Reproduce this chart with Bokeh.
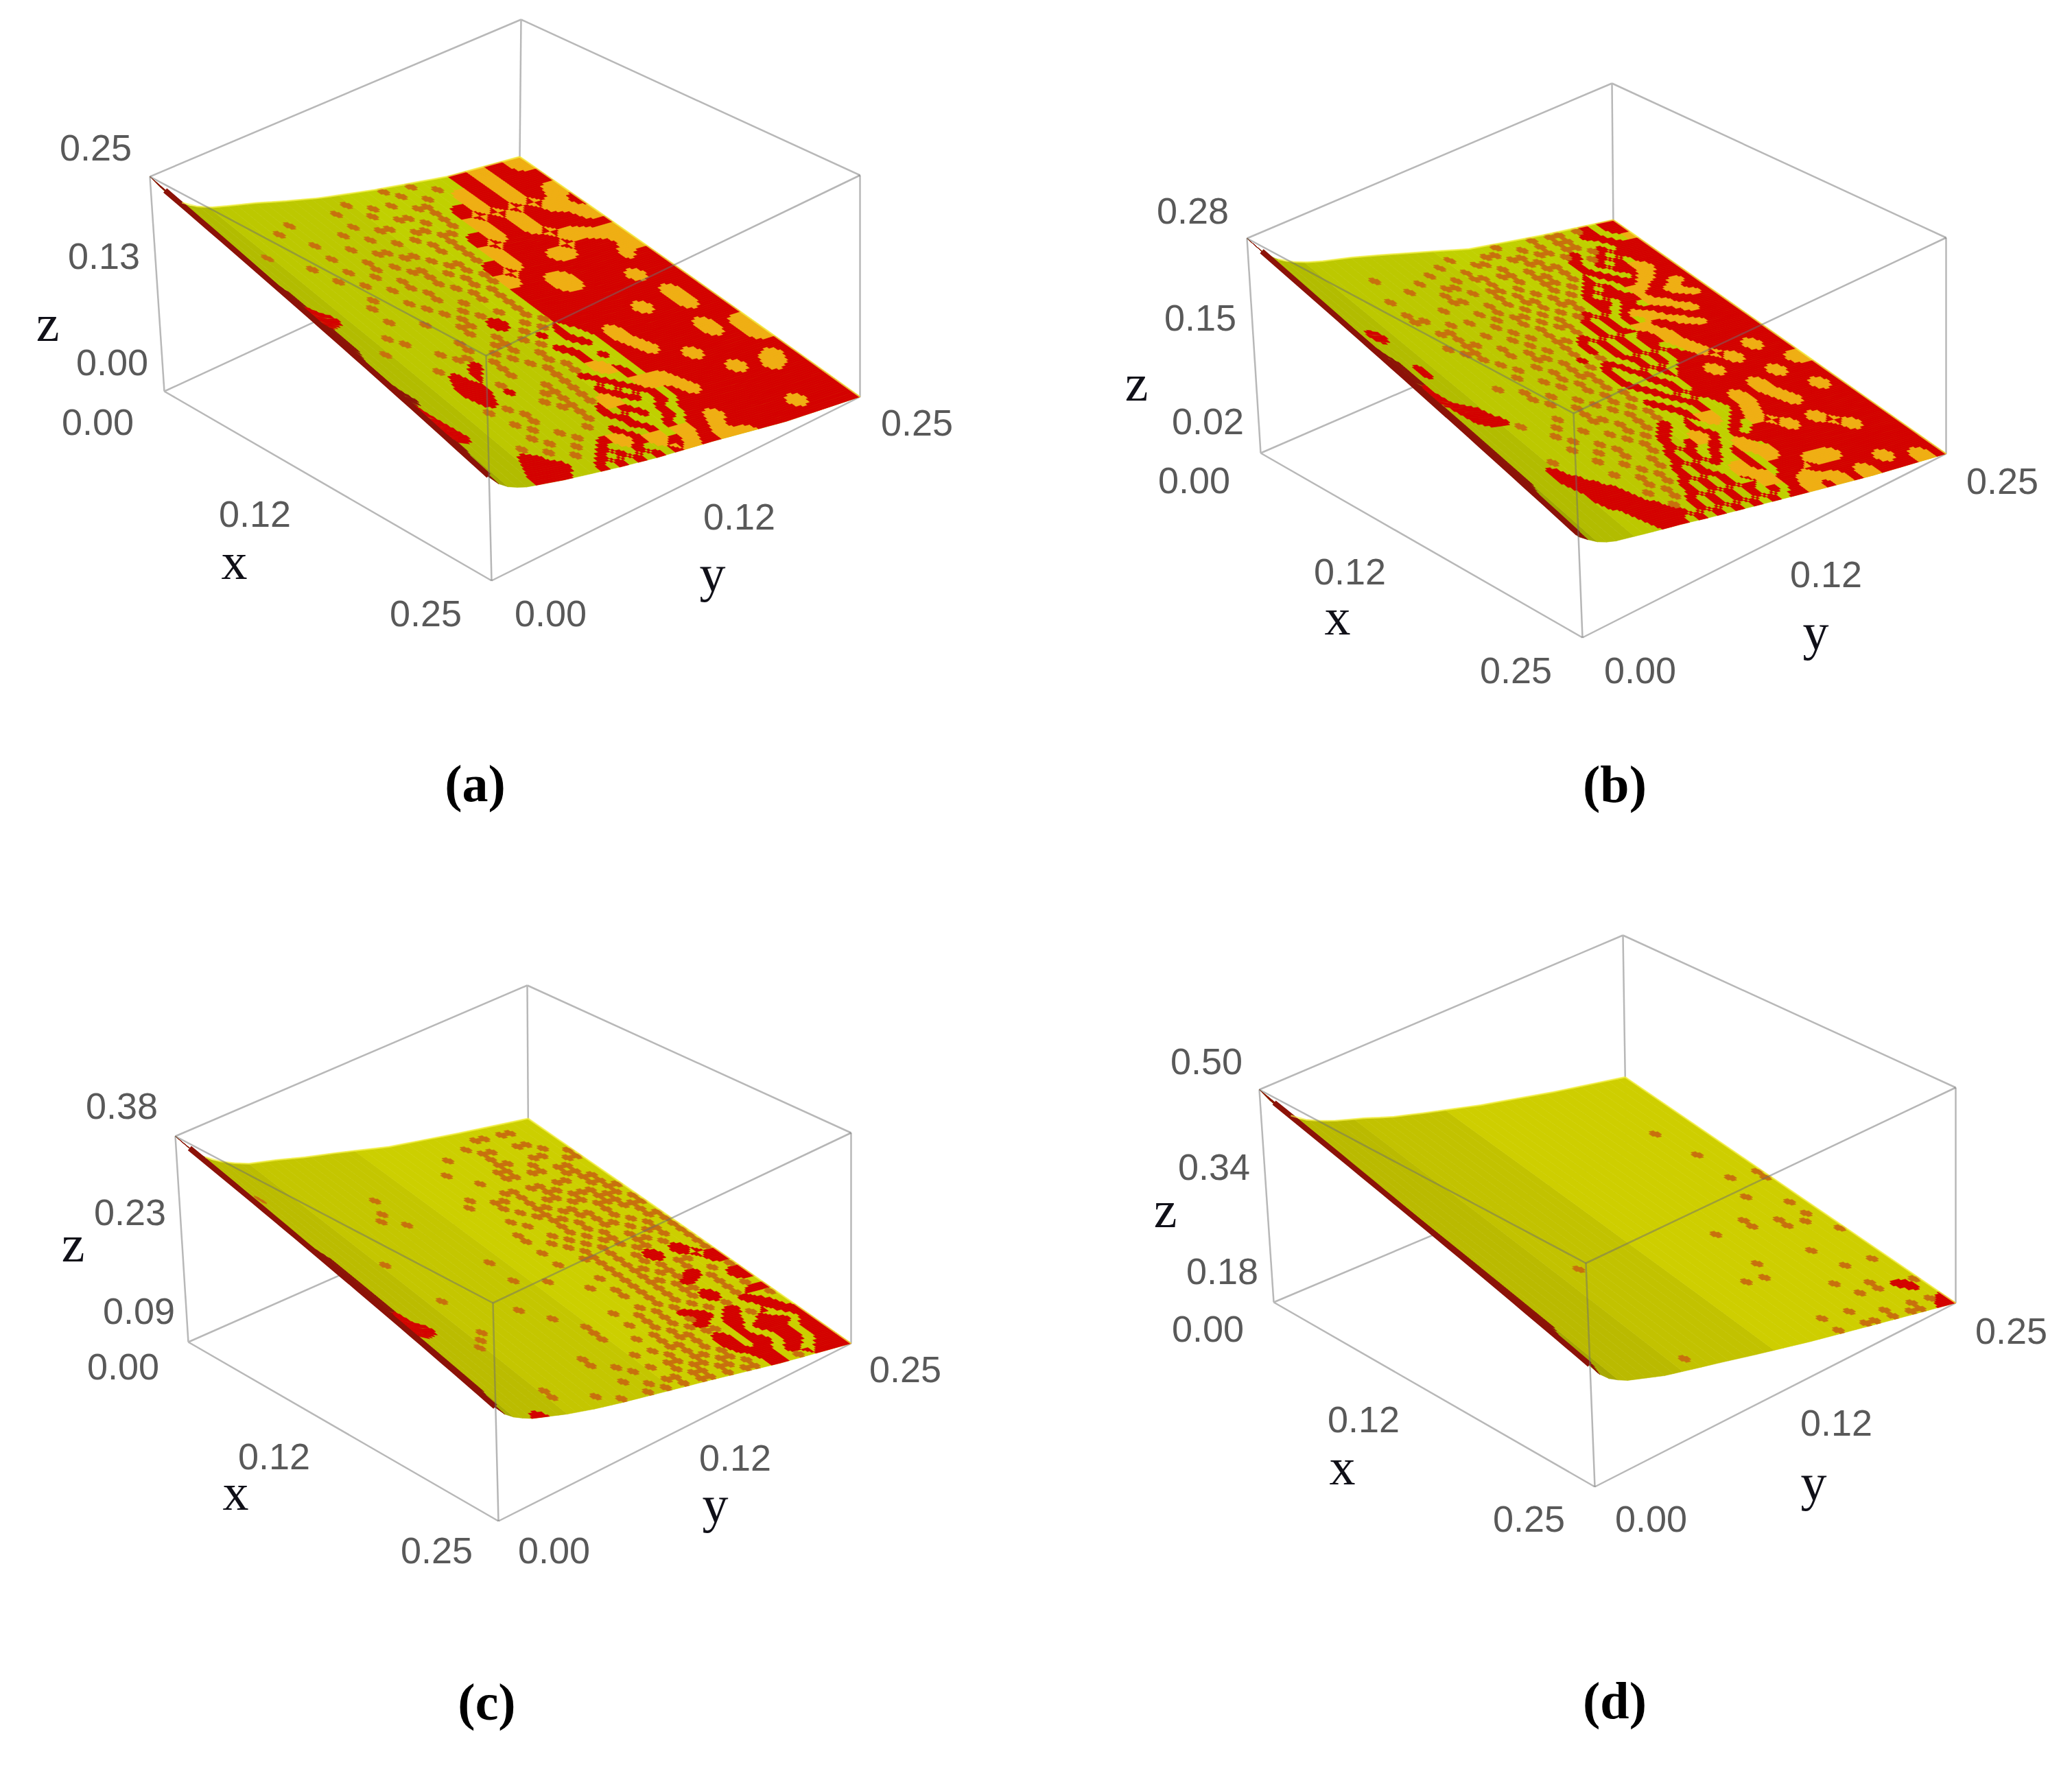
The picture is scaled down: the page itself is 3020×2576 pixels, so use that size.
import numpy as np
from bokeh.plotting import figure
from bokeh.layouts import column, row
from bokeh.models import Range1d
from bokeh.core.properties import value
from bokeh.embed import file_html
from bokeh.resources import INLINE

# ---- values -----------------------------------------------------------
panel_names = ["(a)", "(b)", "(c)", "(d)"]
xy_ticks = ["0.00", "0.12", "0.25"]
z_ticks_a = ["0.25", "0.13", "0.00"]
z_ticks_b = ["0.28", "0.15", "0.02"]
z_ticks_c = ["0.38", "0.23", "0.09"]
z_ticks_d = ["0.50", "0.34", "0.18"]

# surface height, as a share of the z axis, along y at x=0 and at x=0.25
y_knots = [0, .03, .06, .1, .15, .2, .28, .35, .45, .6, .8, 1]
z_x0_a = [1, .92, .85, .79, .745, .715, .67, .625, .565, .49, .40, .34]
z_x1_a = [.46, .40, .365, .335, .31, .285, .25, .22, .18, .13, .055, 0]
z_x0_b = [1, .93, .87, .82, .78, .75, .71, .67, .61, .52, .44, .37]
z_x1_b = [.45, .41, .375, .35, .33, .31, .28, .25, .21, .15, .07, 0]
z_x0_c = [1, .93, .87, .81, .76, .72, .68, .64, .59, .51, .43, .355]
z_x1_c = [.52, .46, .425, .39, .36, .33, .29, .26, .22, .16, .075, 0]
z_x0_d = [1, .92, .85, .79, .745, .71, .665, .62, .57, .50, .42, .35]
z_x1_d = [.55, .47, .43, .395, .365, .335, .30, .27, .225, .16, .08, 0]

# surface colour per (x row, y column): . base  m small mark  o orange  r red  d dark red
mask_a = [
"d.......................m..m....rroorroo",
"d..................m.....m...m..rroorroo",
"d................m...m.m...m..oorroorrrr",
"d..........m........m....mm...oorroorrrr",
"d........m.......m....mm..m.rroorroorroo",
"d..............m...mm...m.m.rroorroorroo",
"dd.........m.....m....mm..m.oorroorrooor",
"dd...m........m....m.m..mm..oorroorrooor",
"dd.........m....mm....m.m.rroorroorrrroo",
"dd......m.....m...mm..m.m.rroorroorrrroo",
"dd.........m..m.m...m...m.oorrrrrrooorrr",
"dd.......m...m...mm..mm.m.oorrrrrrooorro",
"ddd........m...m..m.m.m.rroorrrooorrrrro",
"ddd..........m.m..m..m.mrroorrrooorrrrrr",
"ddd.......m.....m..m.m.moorrrrrrrrrrrorr",
"ddrr.....m...m..m...m.m.oorrooorrrrrrorr",
"ddrrr.........m...m.m.m.rrrrooorrrrrrrrr",
"ddrr.....m.....m.m....m.rrrrooorrrrrrrrr",
"ddd.........m...m.m.m.m.rrrrrrrrrrrrrrrr",
"ddd....m.......mm.rr..m.rrrrrrrrrrrrrrrr",
"ddd.....m......m..rr.m.mrrrrrrrrrrrrrrrr",
"ddd..m.......m...m..m.m.rrrrrrrrrrrrrrrr",
"dd........m..m..mm.m.r.r.rrrrrrrrrrrrrrr",
"dd.........mm..m.m..m..r..rrrrrrrrrrrrrr",
"dd......m...r.m.m..m.r..r.rrrrrrrrrrrrrr",
"dd.......r.r..m..m.m..r...rrrrrrrrrrrrrr",
"dd......rrr...m...m.m.r.r.rrrrrrrrrrrrrr",
"ddd.....rrr.m.....m.m..r..rrrrrrrrrrrrrr",
"ddd.....rrr.r...m.m.r...r.rrrrrrrrrrrrrr",
"dr.......r.....mm.m..r..r.rrrrrrrrrrrrrr",
"drr.....m.m...m.m.m.r.r..rrrrrrrrrrrrrrr",
"drr........m...mm.m..r.r.rrrrrrrrrrrrrrr",
"drrr.....m.m....m.r...r.r.rrrrrrrrrrrrrr",
"ddrr......m.....m.r.r...r.rrrrrrrrrrrrrr",
"dd.......m..m..m...r.r.r.rrrrrrrrrrrrrrr",
"dd.....m..m..m...r.r...r.rrrrrrrrrrrrrrr",
"d.....rr.m..m..r..r.r.r.rrrrrrrrrrrrrrrr",
"d.....rrr..m..r.r.r...r.rrrrrrrrrrrrrrrr",
"d....rrrrr...r.r.r.r.r.rrrrrrrrrrrrrrrrr",
"d....rrrr...r.r.r.r.rrrrrrrrrrrrrrrrrrrr",
]
# orange dots on the surface: (x row, y column, rows tall)
dots_a = [(20,36,2),(17,35,2),(21,32,2),(23,27,3),(22,36,2),(25,35,3),(26,38,3),(28,31,2),(26,28,2),
          (31,33,2),(32,36,2),(37,34,2),(36,26,2),(38,25,2),(32,27,2),(30,24,2),(30,26,2),(27,22,2),
          (31,19,2),(31,37,2),(28,38,2),(37,22,2),(37,19,2),(39,21,1),(36,16,2),(39,27,1),(13,38,2),(11,37,2)]
mask_b = [
"d.........................m...m.mm.mr.rr",
"d...................m...mm..m.m.mm.rr.rr",
"d.................m...mm..mm.mm.mm..rr.oo",
"d.........m.....m...m...m..mm..mr.mr.rrr",
"d.............m...m.mm.mm.m.mm.r.mr.rrrr",
"d...........m...mm...m..m.mm.m.r.r.r.rrr",
"dd.......m.....m..m.mm.m..mm.m.rr.rroorr",
"dd.............mm...m.m.m.m.m.r.rr.roorr",
"dd.......m...m....m.m.mm.m.m.r.r.rroorrr",
"dd.......mm.....m.m..m.m.mm.r.rr.oorroor",
"dd.rr.......m.m..m.mm.m.m.m.rr.rrorroorr",
"dd.rr.....mm....m..m.m.m.mr.r.rr.oorroor",
"dd.........m..m..m..m.mm.r.r.roorroorrrr",
"dd.......m.mm...m.m.m..m.r.r.r.oorroorrr",
"ddd.......mm..m..m..mm.r.r.r.oorroorrrrr",
"ddd.r......m..m.m.m.m.r.r.r.rroorroorrrr",
"ddd.r.......m...mm..m.r.r.r.rroorrrrrrrr",
"ddd..........m.m..m.r.m.r.r.r.oorrrrrrrr",
"ddr.........m...m.m.m.r..r.r.r.orrrrrrrr",
"ddr......m....m.m.mm.r.r.r.r.rrrrrrrrrrr",
"ddrr.......m...m.m.m.r..r.r.rrrrrrrrrrrr",
"dd.rrr.....m.m...m.m.r..r..rrrrrrrrrrrrr",
"dd.rrr......m..m..m.m.r..r.rrrrrrrrrrrrr",
"dd..rrr.......m.m.m.m..r.r.rrrrrrrrrrrrr",
"dd.....m...m..m..m.m.r..r.rrrrrrrrrrrrrr",
"dd........m...mm..m.m.r..r.rrrrrrrrrrrrr",
"dd.......m..m...m.m.m..r.r..rrrrrrrrrrrr",
"dd........m...m.m.m.r..r.r..rrrrrrrrrrrr",
"dd.......m..m..m.m.r..r.r..rrrrrrrrrrrrr",
"dd....m....m.m..m.r..r.r..r.rrrrrrrrrrrr",
"dd...r....m..m..m.r.r..r.r.rrrrrrrrrrrrr",
"dd...rr.....m..m.r.r..r.r.rrrrrrrrrrrrrr",
"dd...rrr..m..m.m.r.r.r.r.r.rrrrrrrrrrrrr",
"d.....rrr...m.m.r.r.r..r.r.rrrrrrrrrrrrr",
"d.....rrrr..m.m.r.r..r.r.rrrrrrrrrrrrrrr",
"d.....rrrr.m.m.r.r.r.r.r.rrrrrrrrrrrrrrr",
"d......rrrr..m.r.r.r.r.r.rrrrrrrrrrrrrrr",
"d.......rrrrm.r.r.r.r.r.rrrrrrrrrrrrrrrr",
"d.......rrrrr.r.r.r.r.r.rrrrrrrrrrrrrrrr",
"d........rrr.r.r.r.r.r.rrrrrrrrrrrrrrrrr",
]
dots_b = [(30,30,2),(30,33,2),(32,35,2),(37,34,2),(38,37,2),(37,26,2),(38,28,2),(38,25,2),(38,31,2),
          (25,29,3),(24,32,3),(23,35,2),(28,28,2),(21,30,2),(22,38,2),(34,21,2),(33,25,2),(29,21,2),
          (27,24,2),(31,24,2),(35,28,2),(35,30,2),(27,33,2),(20,33,2),(19,36,2),(36,22,2),(18,31,2),(26,37,2)]
mask_c = [
"d.......................................",
"d...............................mm.mm...",
"d.............................m.........",
"d..........................m...mm..mm...",
"d..............................m.....m..",
"dd.......................m.....mm..mm..m",
"dd.m..........................mm..m...mm",
"dd.............m...........m..mm.mm.mm..",
"dd..................................mm..",
"dd............m.........m...mm.mm.mm.mm.",
"dd...........m.........m..mm.m..mm...mm.",
"dd.............m..........m..m.mm.mmm.mm",
"dd.........................m.mm..mm.mmm.",
"dd.......................m..mm.mm..mmm.m",
"dd........................m..mm.mm.m.mmm",
"ddd.....................m....m.m.m.m..m.",
"ddd.....m...............m..m.m.m.mm.m.mm",
"ddd.......................m.m.m.m..m.m.m",
"ddd...............m.....m..m.m.mm.m.mm.m",
"ddd.........................m.m.m.mm.m.m",
"ddd.....................m..mm.m..mm.m..m",
"ddd...............m.........m.m.mrr.rr.m",
"ddd......m...........m......m.m.mrr.rr.m",
"ddd.......................m.m.mm.m.mm.rr",
"ddr.....................m...m.m.mm.m..rr",
"ddrr...........m..........m.m.mm.mrr.m.m",
"ddrrr.....................m.m.m.mrr.m.rr",
"ddrr.....m.......m..........m.m.mm..m.rr",
"dd......m..............m..m.m.m.mrr.m.m.",
"dd.....m...........m.....m.m.m.m.rr.m.rr",
"dd.................m...m.m.m.rr.m.m.rr.m",
"dd.................m.....m.m.mrr.rr..rr.",
"dd....................m.m.m.mrr.rr.m.rr.",
"dd.............m........m.mm.mm.rr.rr.rr",
"dd.............m....m.m.mm.m.rr.r.rrrr.r",
"dd...............m.....m.m.m.rr.r..rr.rr",
"dd......m.........m.m.mm.mm.mrr.rr.rr.rr",
"d.......m.......m.....m.mm.mm.rrr..rr.rr",
"d...........m.....m.mm.mm.mm.m.rr.rr.rrr",
"d...rr........m..m.m.m.mm.m.mm.rr.m.rrrr",
]
dots_c = []
mask_d = [
"d.......................................",
"d.......................................",
"d.......................................",
"d.......................................",
"d.......................................",
"dd......................................",
"dd......................................",
"dd......................................",
"dd.................................m....",
"dd......................................",
"dd......................................",
"dd......................................",
"dd..................................m...",
"ddd.....................................",
"ddd.....................................",
"ddd.....................................",
"ddd.................................m..m",
"ddd....................................m",
"ddd.....................................",
"ddd................................m....",
"ddd.....................................",
"ddd...................................m.",
"ddd.............................m.......",
"ddd.........................m...m..m..m.",
"ddd.........m......................m.m..",
"ddd.....................................",
"ddd....................................m",
"ddd.....................................",
"ddd.........................m.....m.....",
"ddd.....................................",
"ddd......................m.m............",
"ddd................................m..m.",
"ddd.....................................",
"dd..............................m.......",
"dd.................................m....",
"dd...............................m.m.rrm",
"dd....................................r.",
"dd.........................m..m.........",
"dd.........m.....................m..m.mrm",
"d..........................m..mm.m.mm.rr",
]
dots_d = []

# ---- layout (page pixels) ---------------------------------------------
W, H = 1502, 1280
red, orange, mark, dark = "#d40000", "#f0ae14", "#c8700e", "#8c1208"
bands_ab = [(.05, "#a2a800"), (.15, "#b2bc00"), (.5, "#bcc800"), (2, "#c0d000")]
bands_c = [(.06, "#a8aa00"), (.2, "#bbbc00"), (.5, "#c4c600"), (2, "#cccf00")]
bands_d = [(.08, "#a8a800"), (.25, "#baba00"), (.5, "#c2c200"), (2, "#cece00")]

panels = [
 dict(name=panel_names[0], origin=(0, 0), z0=z_x0_a, z1=z_x1_a, mask=mask_a, dots=dots_a, bands=bands_ab, zt=z_ticks_a,
      # corners: left, front, right, back; top and bottom of each
      TL=(218,257), TF=(708,518), TR=(1253,255), TB=(759,28), BL=(239,570), BF=(716,846), BR=(1253,578), BB=(756,331),
      zpos=[(139,215),(151,373),(163,528)], zl=(69,470),
      xpos=[(142,615),(371,749),(620,894)], xl=(341,817),
      ypos=[(802,894),(1077,753),(1336,616)], yl=(1038,835), cap=(692,1141)),
 dict(name=panel_names[1], origin=(1502, 0), z0=z_x0_b, z1=z_x1_b, mask=mask_b, dots=dots_b, bands=bands_ab, zt=z_ticks_b,
      TL=(1817,347), TF=(2293,602), TR=(2836,346), TB=(2349,121), BL=(1837,660), BF=(2306,929), BR=(2836,661), BB=(2352,437),
      zpos=[(1738,307),(1749,463),(1760,614)], zl=(1656,557),
      xpos=[(1740,700),(1967,833),(2209,977)], xl=(1949,898),
      ypos=[(2390,977),(2661,837),(2918,701)], yl=(2646,920), cap=(2353,1142)),
 dict(name=panel_names[2], origin=(0, 1280), z0=z_x0_c, z1=z_x1_c, mask=mask_c, dots=dots_c, bands=bands_c, zt=z_ticks_c,
      TL=(255,1656), TF=(718,1899), TR=(1240,1651), TB=(768,1436), BL=(274,1956), BF=(726,2217), BR=(1240,1958), BB=(770,1737),
      zpos=[(177,1612),(189,1767),(202,1911)], zl=(106,1812),
      xpos=[(179,1992),(399,2123),(636,2260)], xl=(343,2174),
      ypos=[(807,2260),(1071,2125),(1319,1996)], yl=(1042,2192), cap=(709,2480)),
 dict(name=panel_names[3], origin=(1502, 1280), z0=z_x0_d, z1=z_x1_d, mask=mask_d, dots=dots_d, bands=bands_d, zt=z_ticks_d,
      TL=(1835,1588), TF=(2311,1841), TR=(2850,1585), TB=(2365,1363), BL=(1856,1898), BF=(2324,2167), BR=(2850,1899), BB=(2370,1681),
      zpos=[(1758,1547),(1769,1701),(1781,1853)], zl=(1698,1762),
      xpos=[(1760,1937),(1987,2069),(2228,2214)], xl=(1956,2137),
      ypos=[(2406,2214),(2676,2074),(2931,1940)], yl=(2643,2160), cap=(2353,2478)),
]


def project(c, u, v, w):
    """Trilinear map of the unit box (x share, y share, z share) on to its corners."""
    pts = np.zeros(2)
    for name, a, b, d in (("BL",1-u,1-v,1-w),("BF",u,1-v,1-w),("BR",u,v,1-w),("BB",1-u,v,1-w),
                          ("TL",1-u,1-v,w),("TF",u,1-v,w),("TR",u,v,w),("TB",1-u,v,w)):
        pts = pts + np.array(c[name], float) * a * b * d
    return pts


def rounder(grid):
    """Double a grid of colour letters, rounding block corners (pixel-art EPX rule)."""
    n, m = len(grid), len(grid[0])
    out = [[""] * (2*m) for _ in range(2*n)]
    for i in range(n):
        for j in range(m):
            P = grid[i][j]
            A = grid[max(i-1, 0)][j]; D = grid[min(i+1, n-1)][j]
            C = grid[i][max(j-1, 0)]; B = grid[i][min(j+1, m-1)]
            out[2*i][2*j] = A if (C == A and C != D and A != B) else P
            out[2*i][2*j+1] = B if (A == B and A != C and B != D) else P
            out[2*i+1][2*j] = C if (D == C and D != B and C != A) else P
            out[2*i+1][2*j+1] = D if (B == D and B != A and D != C) else P
    return out


def panel_figure(c):
    ox, oy = c["origin"]
    p = figure(width=W, height=H, x_range=Range1d(ox, ox + W), y_range=Range1d(oy + H, oy),
               x_axis_type=None, y_axis_type=None, toolbar_location=None, output_backend="svg",
               min_border=0, outline_line_color=None, background_fill_color="white")
    grey = "#b8b8b8"
    back = [("TL","TB"),("TB","TR"),("TL","BL"),("TR","BR"),("BL","BF"),("BF","BR"),("BL","BB"),("BR","BB"),("TB","BB")]
    p.multi_line([[c[a][0], c[b][0]] for a, b in back], [[c[a][1], c[b][1]] for a, b in back],
                 line_color=grey, line_width=2.5)

    def height(u, v):
        return (1-u)*np.interp(v, y_knots, c["z0"]) + u*np.interp(v, y_knots, c["z1"])

    def P(u, v):
        return project(c, u, v, height(u, v))

    def strip(u0, u1, v0, v1, nsteps_u, nsteps_v):
        """Outline of one surface patch, following the curved surface."""
        pts = [P(u, v0) for u in np.linspace(u0, u1, nsteps_u+1)]
        pts += [P(u1, v) for v in np.linspace(v0, v1, nsteps_v+1)[1:]]
        pts += [P(u, v1) for u in np.linspace(u1, u0, nsteps_u+1)[1:]]
        pts += [P(u0, v) for v in np.linspace(v1, v0, nsteps_v+1)[1:-1]]
        return [q[0] for q in pts], [q[1] for q in pts]

    nu, nv = 40, 40
    xs, ys, cols = [], [], []
    # base colour: one long strip per y column
    for j in range(nv):
        vm = (j+.5)/nv
        base = next(col for lim, col in c["bands"] if vm < lim)
        a, b = strip(0, 1, j/nv, (j+1)/nv, 4, 1)
        xs.append(a); ys.append(b); cols.append(base)

    # coloured cells, rounded, one polygon per run of equal letters
    lines = [ln.ljust(nv, ln[-1])[:nv] for ln in c["mask"]]
    grid = [[("." if ch == "m" else ch) for ch in ln] for ln in lines]
    for (ri, cj, tall) in c["dots"]:
        for a in range(ri, min(ri+tall, nu)):
            for b in range(cj, min(cj+2, nv)):
                grid[a][b] = "o"
    fine = rounder(rounder(grid))
    fu, fv = len(fine), len(fine[0])
    palette = {"o": orange, "r": red, "d": dark}
    for i in range(fu):
        j = 0
        while j < fv:
            ch = fine[i][j]
            k = j
            while k < fv and fine[i][k] == ch:
                k += 1
            if ch != ".":
                a, b = strip(i/fu, (i+1)/fu, j/fv, k/fv, 1, max(1, (k-j)//4))
                xs.append(a); ys.append(b); cols.append(palette[ch])
            j = k
    # small cross marks
    for i, ln in enumerate(lines):
        for j, ch in enumerate(ln):
            if ch == "m":
                for (a0, a1, b0, b1) in ((.25, .75, 0, 1), (0, 1, .25, .75)):
                    a, b = strip((i+a0)/nu, (i+a1)/nu, (j+b0)/nv, (j+b1)/nv, 1, 1)
                    xs.append(a); ys.append(b); cols.append(mark)
    p.patches(xs, ys, fill_color=cols, line_color=cols, line_width=0.6)

    # dark underside along y=0
    edge = [P(u, .012) for u in np.linspace(.03, .985, 30)]
    p.line([q[0] for q in edge], [q[1] for q in edge], line_color=dark, line_width=8)
    # pale fringe on the far edges
    for pts in ([P(0, v) for v in np.linspace(.08, 1, 24)], [P(u, 1) for u in np.linspace(0, 1, 12)]):
        p.line([q[0] for q in pts], [q[1] for q in pts], line_color="#f6f24a", line_alpha=.7, line_width=2.5)

    front = [("TL","TF"),("TR","TF"),("TF","BF")]
    p.multi_line([[c[a][0], c[b][0]] for a, b in front], [[c[a][1], c[b][1]] for a, b in front],
                 line_color="#6e6e6e", line_alpha=0.5, line_width=2.5)

    tx = [q[0] for q in c["zpos"]+c["xpos"]+c["ypos"]]
    ty = [q[1] for q in c["zpos"]+c["xpos"]+c["ypos"]]
    p.text(tx, ty, text=list(c["zt"])+xy_ticks+xy_ticks, text_font=value("Liberation Sans"),
           text_font_size="54px", text_color="#595959", text_align="center", text_baseline="middle")
    p.text([c["xl"][0], c["yl"][0], c["zl"][0]], [c["xl"][1], c["yl"][1], c["zl"][1]], text=["x", "y", "z"],
           text_font=value("Liberation Serif"), text_font_size="76px", text_color="#101018",
           text_align="center", text_baseline="middle")
    p.text([c["cap"][0]], [c["cap"][1]], text=[c["name"]], text_font=value("Liberation Serif"),
           text_font_size="76px", text_font_style="bold", text_color="black",
           text_align="center", text_baseline="middle")
    return p


figs = [panel_figure(c) for c in panels]
page = column(row(figs[0], figs[1], spacing=0), row(figs[2], figs[3], spacing=0), spacing=0)
open("out.html", "w").write(file_html(page, INLINE))
